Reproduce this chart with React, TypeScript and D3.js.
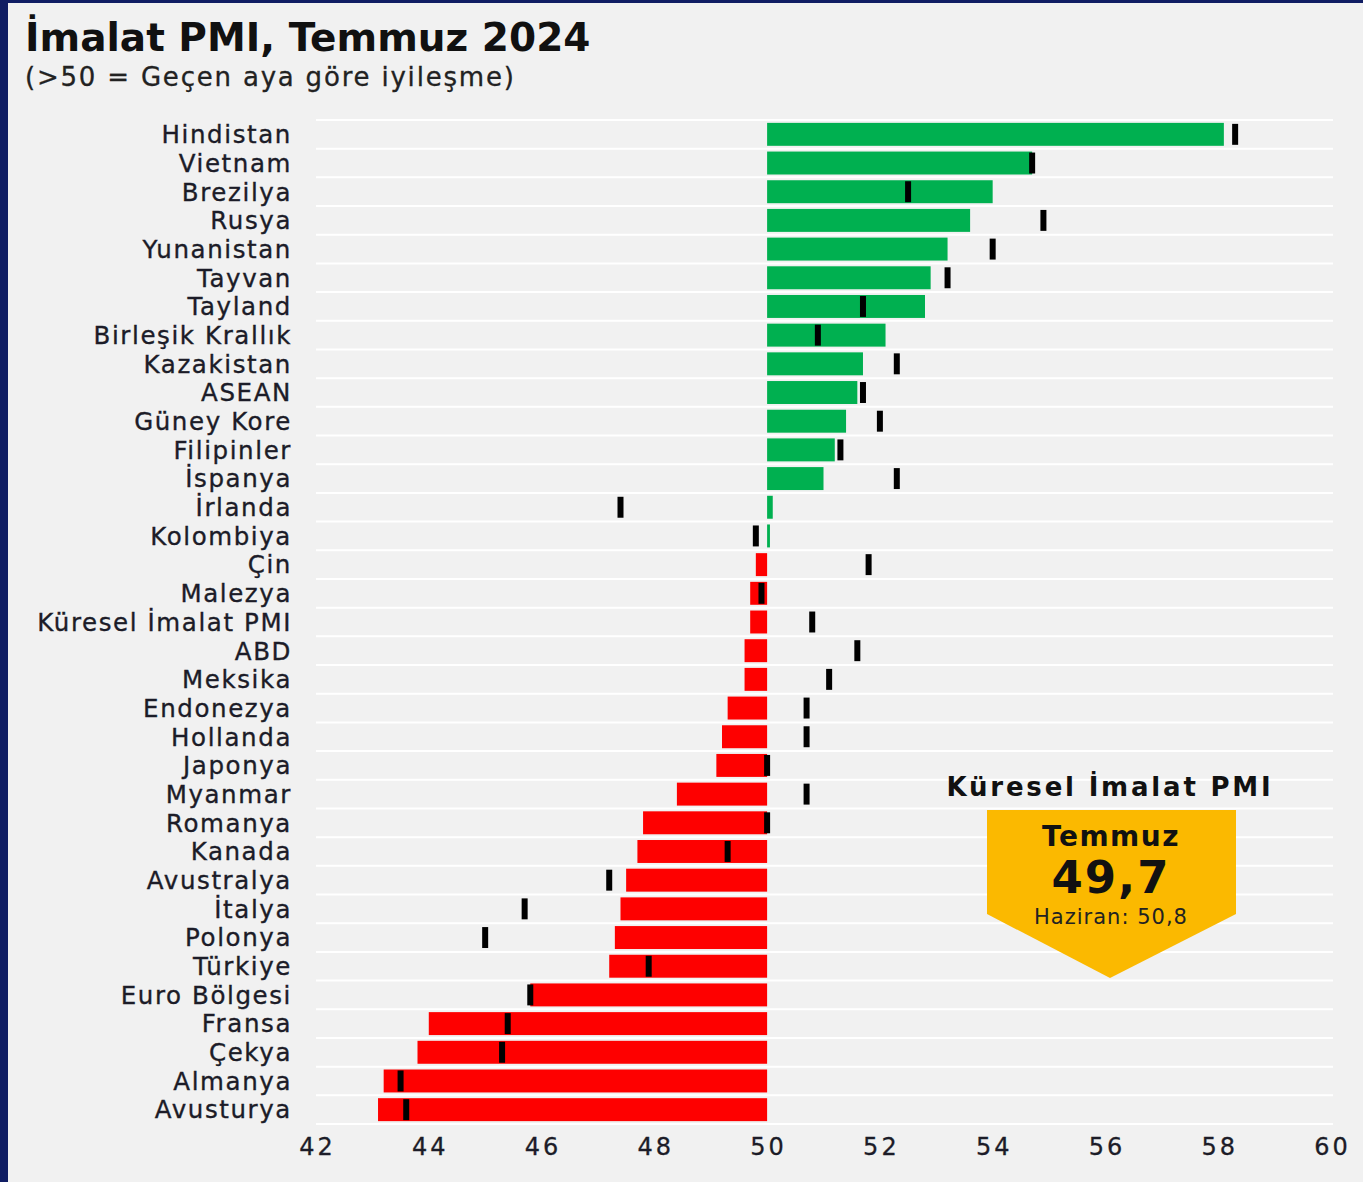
import React, { useEffect } from 'react';
import * as d3 from 'd3';

// Ülkeler (yukarıdan aşağıya)
const countries = [
  'Hindistan', 'Vietnam', 'Brezilya', 'Rusya', 'Yunanistan', 'Tayvan', 'Tayland',
  'Birleşik Krallık', 'Kazakistan', 'ASEAN', 'Güney Kore', 'Filipinler', 'İspanya',
  'İrlanda', 'Kolombiya', 'Çin', 'Malezya', 'Küresel İmalat PMI', 'ABD', 'Meksika',
  'Endonezya', 'Hollanda', 'Japonya', 'Myanmar', 'Romanya', 'Kanada', 'Avustralya',
  'İtalya', 'Polonya', 'Türkiye', 'Euro Bölgesi', 'Fransa', 'Çekya', 'Almanya', 'Avusturya'
];

// Temmuz 2024 PMI
const july = [
  58.1, 54.7, 54.0, 53.6, 53.2, 52.9, 52.8,
  52.1, 51.7, 51.6, 51.4, 51.2, 51.0,
  50.1, 50.05, 49.8, 49.7, 49.7, 49.6, 49.6,
  49.3, 49.2, 49.1, 48.4, 47.8, 47.7, 47.5,
  47.4, 47.3, 47.2, 45.8, 44.0, 43.8, 43.2, 43.1
];

// Haziran 2024 PMI (siyah işaret)
const june = [
  58.3, 54.7, 52.5, 54.9, 54.0, 53.2, 51.7,
  50.9, 52.3, 51.7, 52.0, 51.3, 52.3,
  47.4, 49.8, 51.8, 49.9, 50.8, 51.6, 51.1,
  50.7, 50.7, 50.0, 50.7, 50.0, 49.3, 47.2,
  45.7, 45.0, 47.9, 45.8, 45.4, 45.3, 43.5, 43.6
];

const ticks = [42, 44, 46, 48, 50, 52, 54, 56, 58, 60];

const W = 1363;
const H = 1182;
const FONT = '"DejaVu Sans", Verdana, sans-serif';
const GREEN = '#00b050';
const RED = '#fe0000';
const BG = '#f1f1f1';
const NAVY = '#101d63';
const INK = '#1c1c28';

export default function App() {
  useEffect(() => {
    document.body.style.margin = '0';
    document.body.style.overflow = 'hidden';
  }, []);

  const x = d3.scaleLinear().domain([42, 60]).range([316, 1331]);
  const y = d3.scaleBand<string>()
    .domain(countries)
    .range([120, 1124])
    .paddingInner(0.2)
    .paddingOuter(0.1);
  const step = y.step();
  const bw = y.bandwidth();
  const sepY = d3.range(countries.length + 1).map(i => 120 + i * step);

  return (
    <svg width={W} height={H} style={{ display: 'block', fontFamily: FONT }}>
      <rect x={0} y={0} width={W} height={H} fill={BG} />
      <rect x={0} y={0} width={W} height={3} fill={NAVY} />
      <rect x={0} y={0} width={8} height={H} fill={NAVY} />

      <text x={25} y={51} fontSize={39} fontWeight="bold" fill="#111">İmalat PMI, Temmuz 2024</text>
      <text x={25} y={86} fontSize={26} letterSpacing={1.8} fill="#222" stroke="#222" strokeWidth={0.3}>(&gt;50 = Geçen aya göre iyileşme)</text>

      {sepY.map((sy, i) => (
        <line key={i} x1={316} x2={1333} y1={sy} y2={sy} stroke="#ffffff" strokeWidth={2} />
      ))}

      {countries.map((c, i) => {
        const v = july[i];
        const x0 = x(Math.min(50, v));
        const x1 = x(Math.max(50, v));
        const yy = y(c) as number;
        return (
          <g key={c}>
            <text x={292} y={yy + bw / 2} dy="0.36em" textAnchor="end" fontSize={24.5} letterSpacing={1.6}
              fill={INK} stroke={INK} strokeWidth={0.35}>{c}</text>
            <rect x={x0} y={yy} width={Math.max(1.5, x1 - x0)} height={bw} fill={v >= 50 ? GREEN : RED} />
            <rect x={x(june[i]) - 3} y={yy + 1} width={6} height={bw - 2} fill="#000" />
          </g>
        );
      })}

      {ticks.map(t => (
        <text key={t} x={x(t) + 1.5} y={1155} textAnchor="middle" fontSize={24} letterSpacing={3}
          fill={INK} stroke={INK} strokeWidth={0.3}>{t}</text>
      ))}

      <text x={1110} y={796} textAnchor="middle" fontSize={26} fontWeight="bold" letterSpacing={2.8} fill="#111">Küresel İmalat PMI</text>
      <polygon points="987,810 1236,810 1236,914 1110,978 987,914" fill="#fbb900" />
      <text x={1111} y={846} textAnchor="middle" fontSize={28} fontWeight="bold" letterSpacing={1.5} fill="#111">Temmuz</text>
      <text x={1111} y={893} textAnchor="middle" fontSize={45} fontWeight="bold" letterSpacing={2} fill="#111">49,7</text>
      <text x={1111} y={924} textAnchor="middle" fontSize={21} letterSpacing={1} fill="#222">Haziran: 50,8</text>
    </svg>
  );
}
